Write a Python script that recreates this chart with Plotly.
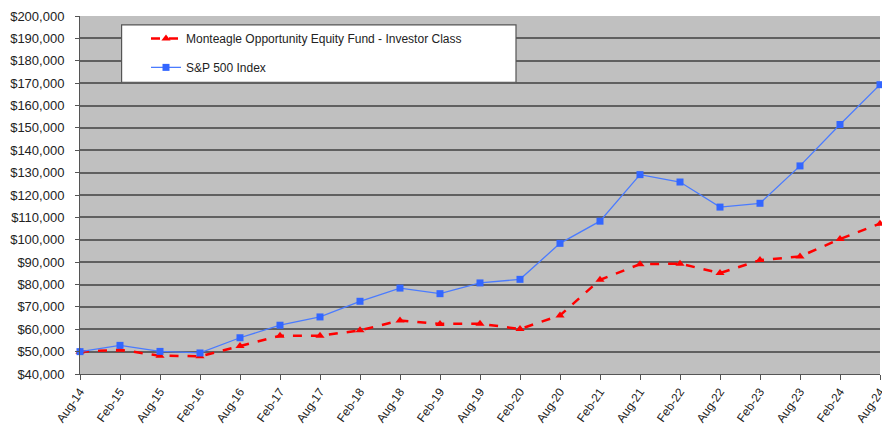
import plotly.graph_objects as go

dates = ["Aug-14", "Feb-15", "Aug-15", "Feb-16", "Aug-16", "Feb-17", "Aug-17", "Feb-18",
         "Aug-18", "Feb-19", "Aug-19", "Feb-20", "Aug-20", "Feb-21", "Aug-21", "Feb-22",
         "Aug-22", "Feb-23", "Aug-23", "Feb-24", "Aug-24"]
fund = [50000, 50800, 48200, 47900, 52500, 57100, 57100, 59500, 63900, 62400, 62500, 60100,
        66200, 82100, 89100, 89300, 85100, 90900, 92500, 100300, 107200]
sp500 = [50000, 52800, 50100, 49400, 56200, 61800, 65500, 72500, 78400, 75900, 80700, 82300,
         98400, 108300, 129100, 125800, 114600, 116300, 133000, 151500, 169300]
fund_name = "Monteagle Opportunity Equity Fund - Investor Class"
sp_name = "S&P 500 Index"

fig = go.Figure()
fig.add_trace(go.Scatter(
    x=dates, y=fund, name=fund_name, mode="lines+markers", legendgroup="a",
    line=dict(color="#FF0000", width=2.5, dash="dash"),
    marker=dict(symbol="triangle-up", size=8, color="#FF0000"),
    cliponaxis=False))
fig.add_trace(go.Scatter(
    x=dates, y=sp500, name=sp_name, mode="lines+markers", legendgroup="b",
    line=dict(color="#4A7BFF", width=1.3),
    marker=dict(symbol="square", size=7, color="#3366FF"),
    cliponaxis=False))

fig.add_shape(type="rect", xref="paper", yref="paper", x0=0.052, x1=0.545, y0=0.815, y1=0.975,
              fillcolor="white", line=dict(color="#555555", width=1.2), layer="above")

fig.update_layout(
    width=882, height=426,
    margin=dict(l=80, r=2, t=16, b=52),
    paper_bgcolor="white", plot_bgcolor="#C0C0C0",
    font=dict(family="Liberation Sans, Arial, sans-serif", color="#222222", size=12),
    legend=dict(x=0.0825, y=0.978, xanchor="left", yanchor="top", bgcolor="rgba(0,0,0,0)",
                borderwidth=0, font=dict(size=12, color="#222222"), tracegroupgap=10),
    xaxis=dict(type="category", range=[0, 20], tickangle=-55, ticks="outside", ticklen=5,
               tickcolor="#555555", showgrid=False, showline=True, linecolor="#555555",
               tickfont=dict(size=12), automargin=False),
    yaxis=dict(range=[40000, 200000], dtick=10000, tickprefix="$", tickformat=",",
               ticks="outside", ticklen=4, tickcolor="#555555", gridcolor="#606060",
               gridwidth=1.5, showline=True, linecolor="#555555", tickfont=dict(size=13),
               zeroline=False, automargin=False, ticklabelstandoff=8),
)
fig.write_html("out.html", config={"displayModeBar": False},
               post_script="document.body.style.margin='0';")
